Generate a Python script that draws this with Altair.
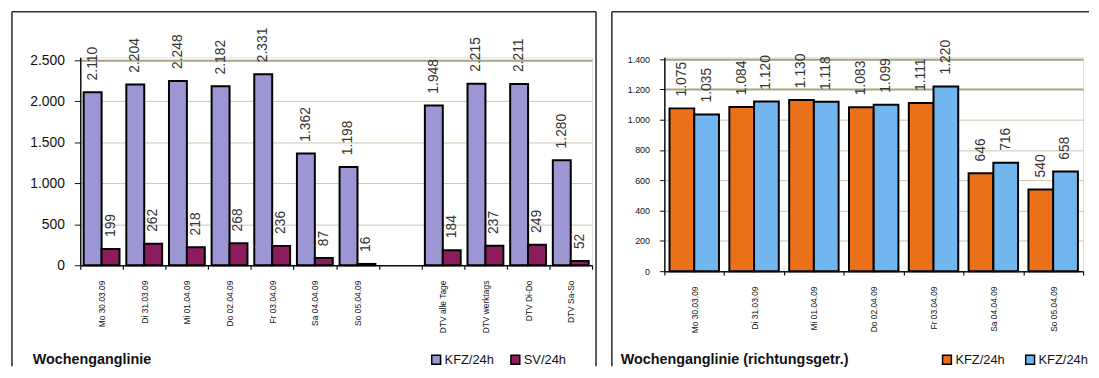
import altair as alt
import pandas as pd

# ---------------- data ----------------
days = ["Mo 30.03.09", "Di 31.03.09", "Mi 01.04.09", "Do 02.04.09",
        "Fr 03.04.09", "Sa 04.04.09", "So 05.04.09"]
dtv = ["DTV alle Tage", "DTV werktags", "DTV Di-Do", "DTV Sa-So"]
gap = " "
left_cats = days + [gap] + dtv

kfz_24h = [2110, 2204, 2248, 2182, 2331, 1362, 1198, None, 1948, 2215, 2211, 1280]
sv_24h = [199, 262, 218, 268, 236, 87, 16, None, 184, 237, 249, 52]

dir1_kfz = [1075, 1084, 1130, 1083, 1111, 646, 540]
dir2_kfz = [1035, 1120, 1118, 1099, 1220, 716, 658]

left_series = ["KFZ/24h", "SV/24h"]
right_series = ["R1", "R2"]
right_legend_labels = ["KFZ/24h", "KFZ/24h"]

left_ticks = [0, 500, 1000, 1500, 2000, 2500]
right_ticks = [0, 200, 400, 600, 800, 1000, 1200, 1400]

rows = []
for c, a, b in zip(left_cats, kfz_24h, sv_24h):
    if a is not None:
        rows.append({"cat": c, "series": left_series[0], "value": a})
    if b is not None:
        rows.append({"cat": c, "series": left_series[1], "value": b})
left_df = pd.DataFrame(rows)

rows = []
for c, a, b in zip(days, dir1_kfz, dir2_kfz):
    rows.append({"cat": c, "series": right_series[0], "value": a})
    rows.append({"cat": c, "series": right_series[1], "value": b})
right_df = pd.DataFrame(rows)

FONT = "Liberation Sans"
DE = "replace(format(datum.value, ','), ',', '.')"
FRAME = "#333333"
GRID_LIGHT = "#cbc6ae"
GRID_OLIVE = "#a9a57a"

one = alt.Data(values=[{}])


def panel(df, cats, series, colors, legend_labels, ydom, ytick_vals, olive_from,
          width, height, frame_left, frame_right, frame_bottom, title_text,
          title_x, legend_x, legend_y, ylab_size, ylab_pad, ytick_size,
          off_pad, legend_colpad, right_edge=True):
    x = alt.X(
        "cat:N",
        scale=alt.Scale(domain=cats, paddingInner=0, paddingOuter=0),
        axis=alt.Axis(title=None, labelAngle=270, labelFontSize=8.5,
                      labelColor="#111", labelPadding=11, tickSize=4,
                      tickColor="#111", domainColor="#111", domainWidth=1.5,
                      tickWidth=1.2, tickBand="extent", grid=False,
                      labelOverlap=False, labelLimit=200, labelFont=FONT),
    )
    xo = alt.XOffset("series:N",
                     scale=alt.Scale(domain=series, paddingInner=0,
                                     paddingOuter=off_pad))
    y = alt.Y(
        "value:Q",
        scale=alt.Scale(domain=ydom, nice=False, zero=True),
        axis=alt.Axis(title=None, values=ytick_vals, tickCount=len(ytick_vals),
                      labelExpr=DE,
                      labelFontSize=ylab_size, labelColor="#111",
                      labelPadding=ylab_pad, tickSize=ytick_size,
                      tickColor="#111", domainColor="#111", domainWidth=1.5,
                      labelFont=FONT, labelOverlap=False, labelFlush=False,
                      gridColor={"condition": {"test": f"datum.value >= {olive_from}",
                                               "value": GRID_OLIVE},
                                 "value": GRID_LIGHT},
                      gridWidth={"condition": {"test": f"datum.value >= {olive_from}",
                                               "value": 2},
                                 "value": 1}),
    )
    lab_expr = "datum.label == '%s' ? '%s' : '%s'" % (
        series[0], legend_labels[0], legend_labels[1])
    color = alt.Color(
        "series:N",
        scale=alt.Scale(domain=series, range=colors),
        legend=alt.Legend(orient="none", legendX=legend_x, legendY=legend_y,
                          direction="horizontal", title=None,
                          symbolType="square", symbolSize=80,
                          symbolStrokeColor="black", symbolStrokeWidth=1.5,
                          symbolOpacity=1, labelFontSize=13, labelFont=FONT,
                          labelColor="#111", labelOffset=2,
                          columnPadding=legend_colpad, labelExpr=lab_expr),
    )
    bars = alt.Chart(df).mark_bar(stroke="black", strokeWidth=2).encode(
        x=x, xOffset=xo, y=y, color=color)
    labels = alt.Chart(df).transform_calculate(label=DE).mark_text(
        angle=270, align="left", baseline="middle", dx=12, fontSize=14,
        font=FONT, color="#333333").encode(
        x=alt.X("cat:N"), xOffset=alt.XOffset("series:N"), y=alt.Y("value:Q"),
        text="label:N")

    layers = []
    layers.append(alt.Chart(one).mark_rule(color=FRAME, strokeWidth=1.6).encode(
        x=alt.value(frame_left), y=alt.value(-46), y2=alt.value(frame_bottom)))
    layers.append(alt.Chart(one).mark_rule(color=FRAME, strokeWidth=1.6).encode(
        x=alt.value(frame_left), x2=alt.value(frame_right), y=alt.value(-46)))
    if right_edge:
        layers.append(alt.Chart(one).mark_rule(color=FRAME, strokeWidth=1.6).encode(
            x=alt.value(frame_right), y=alt.value(-46), y2=alt.value(frame_bottom)))
    title = alt.Chart(one).mark_text(
        align="left", baseline="middle", fontSize=14.5, fontWeight="bold",
        font=FONT, color="#111").encode(
        x=alt.value(title_x), y=alt.value(legend_y + 7), text=alt.value(title_text))
    layers += [bars, labels, title]
    return alt.layer(*layers).properties(width=width, height=height)


left = panel(left_df, left_cats, left_series, ["#9c97d2", "#8c1c5e"],
             left_series, [0, 2536], left_ticks, 2500,
             517, 210, -69, 521, 312, "Wochenganglinie",
             -48, 353, 299, 14, 10, 6, 0.19, 14)

right = panel(right_df, days, right_series, ["#ea7019", "#72b6f0"],
              right_legend_labels, [0, 1412], right_ticks, 1200,
              423, 216, -53, 429, 312, "Wochenganglinie (richtungsgetr.)",
              -44, 279, 299, 9, 10, 5, 0.21, 18, right_edge=False)

chart = alt.hconcat(left, right, spacing=12).resolve_scale(
    x="independent", y="independent", color="independent",
    xOffset="independent").resolve_legend(color="independent").properties(
    padding={"left": 2, "top": 0, "right": 0, "bottom": 0},
    background="white").configure_view(stroke=None).configure(font=FONT)

chart.save("out.html", embed_options={"renderer": "svg", "actions": False})
